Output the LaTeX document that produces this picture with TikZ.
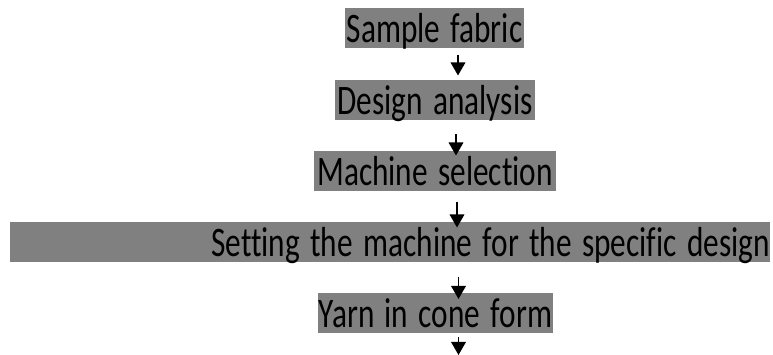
\documentclass[tikz,border=0pt]{standalone}
\usepackage{fontspec}
\usepackage{graphicx}
\setmainfont{Carlito}[Ligatures={NoCommon}]
\usetikzlibrary{arrows.meta}
\definecolor{boxgray}{HTML}{808080}
\newcommand{\steptext}[1]{\scalebox{0.745}[1]{#1}}
\begin{document}
\begin{tikzpicture}[x=1pt,y=1pt,
  stepbox/.style={fill=boxgray, inner sep=0pt, text height=34.5pt, text depth=5.5pt,
    font=\fontsize{42}{48}\selectfont, align=center},
  flow/.style={line width=1.8pt, -{Triangle[width=14.5pt,length=13pt]}}]
\useasboundingbox (0,0) rectangle (773,355);
\node[stepbox, text width=179pt] (s1) at (434.5,326.5) {\steptext{Sample fabric}};
\node[stepbox, text width=200pt] (s2) at (435,255) {\steptext{Design analysis}};
\node[stepbox, text width=242pt] (s3) at (435,184) {\steptext{Machine selection}};
\node[stepbox, text width=760pt, align=right] (s4) at (390,113) {\steptext{Setting the machine for the specific design}\hspace*{3pt}};
\node[stepbox, text width=235pt] (s5) at (435.5,42) {\steptext{Yarn in cone form}};
\coordinate (a1s) at (458,300); \coordinate (a1e) at (458,279.5);
\coordinate (a2s) at (456,221); \coordinate (a2e) at (456,199.5);
\coordinate (a3s) at (457,153); \coordinate (a3e) at (457,127.5);
\coordinate (a4s) at (458.5,78); \coordinate (a4e) at (458.5,56);
\coordinate (a5s) at (458.5,18); \coordinate (a5e) at (458.5,0);
\draw[flow] (a1s) -- (a1e);
\draw[flow] (a2s) -- (a2e);
\draw[flow] (a3s) -- (a3e);
\draw[flow] (a4s) -- (a4e);
\draw[flow] (a5s) -- (a5e);
\end{tikzpicture}
\end{document}
